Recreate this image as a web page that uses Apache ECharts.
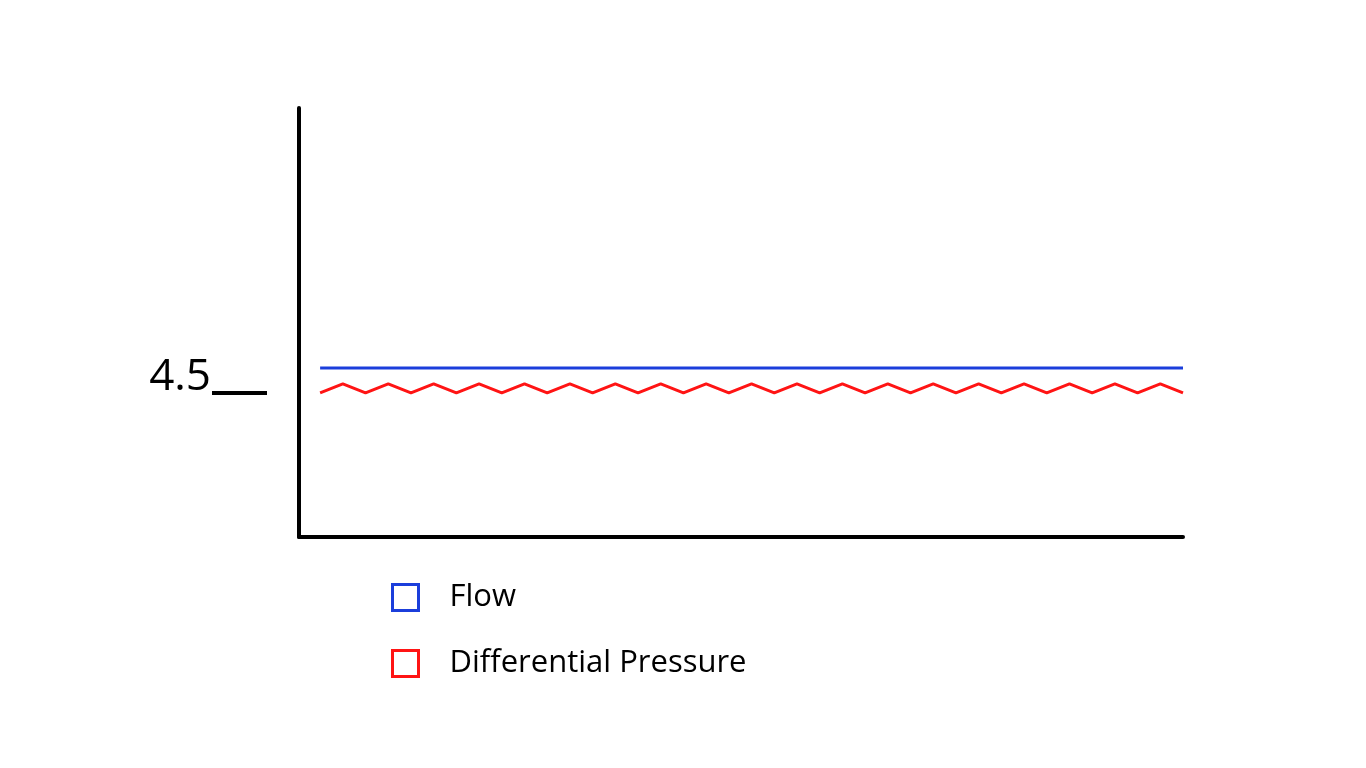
<!DOCTYPE html>
<html>
<head>
<meta charset="utf-8">
<script src="https://cdn.jsdelivr.net/npm/echarts@6/dist/echarts.min.js"></script>
<style>
html,body{margin:0;padding:0;background:#fff;}
#chart{width:1366px;height:768px;}
</style>
</head>
<body>
<div id="chart"></div>
<script>
// ---- data ----
const timeSteps = [0,1,2,3,4,5,6,7,8,9,10,11,12,13,14,15,16,17,18,19,20,21,22,23,24,25,26,27,28,29,30,31,32,33,34,35,36,37,38];
const flowValues = [5.28,5.28,5.28,5.28,5.28,5.28,5.28,5.28,5.28,5.28,5.28,5.28,5.28,5.28,5.28,5.28,5.28,5.28,5.28,5.28,5.28,5.28,5.28,5.28,5.28,5.28,5.28,5.28,5.28,5.28,5.28,5.28,5.28,5.28,5.28,5.28,5.28,5.28,5.28];
const pressureValues = [4.5,4.78,4.5,4.78,4.5,4.78,4.5,4.78,4.5,4.78,4.5,4.78,4.5,4.78,4.5,4.78,4.5,4.78,4.5,4.78,4.5,4.78,4.5,4.78,4.5,4.78,4.5,4.78,4.5,4.78,4.5,4.78,4.5,4.78,4.5,4.78,4.5,4.78,4.5];
const yTickValues = [4.5];
const seriesNames = ['Flow', 'Differential Pressure'];
const seriesColors = ['#1b3edb', '#ff1414'];

const pair = (xs, ys) => xs.map((x, i) => [x, ys[i]]);

const chart = echarts.init(document.getElementById('chart'), null, {renderer: 'canvas'});
const FONT = '"Open Sans", "DejaVu Sans", sans-serif';
chart.setOption({
  animation: false,
  backgroundColor: '#ffffff',
  grid: {left: 299, right: 183, top: 108, bottom: 231},
  xAxis: {
    type: 'value', min: -0.93, max: 38,
    axisLine: {show: true, onZero: false, lineStyle: {color: '#000', width: 4}},
    axisTick: {show: false}, axisLabel: {show: false}, splitLine: {show: false}
  },
  yAxis: [
    {
      type: 'value', min: 0, max: 13.4,
      axisLine: {show: true, onZero: false, lineStyle: {color: '#000', width: 4}},
      axisTick: {show: false}, axisLabel: {show: false}, splitLine: {show: false}
    },
    {
      type: 'value', min: 0, max: 13.4, position: 'left', offset: 32,
      axisLine: {show: false, onZero: false},
      axisTick: {show: true, customValues: yTickValues, length: 55, lineStyle: {color: '#000', width: 4}},
      axisLabel: {show: true, customValues: yTickValues, margin: 56, fontSize: 44, color: '#000',
        fontFamily: FONT, verticalAlign: 'bottom', lineHeight: 30,
        formatter: v => String(v)},
      splitLine: {show: false}
    }
  ],
  legend: {
    orient: 'vertical', left: 391, top: 582, padding: 0,
    itemWidth: 26, itemHeight: 26, itemGap: 35,
    icon: 'rect',
    textStyle: {fontSize: 31, color: '#000', fontFamily: FONT, lineHeight: 26, padding: [0, 0, 0, 26]},
    data: seriesNames.map((n, i) => ({
      name: n, icon: 'rect',
      itemStyle: {color: 'transparent', borderColor: seriesColors[i], borderWidth: 3}
    }))
  },
  series: [
    {
      name: seriesNames[0], type: 'line', data: pair(timeSteps, flowValues),
      showSymbol: false, symbol: 'none', color: seriesColors[0],
      lineStyle: {color: seriesColors[0], width: 3}
    },
    {
      name: seriesNames[1], type: 'line', data: pair(timeSteps, pressureValues),
      showSymbol: false, symbol: 'none', color: seriesColors[1],
      lineStyle: {color: seriesColors[1], width: 3}
    }
  ]
});
</script>
</body>
</html>
